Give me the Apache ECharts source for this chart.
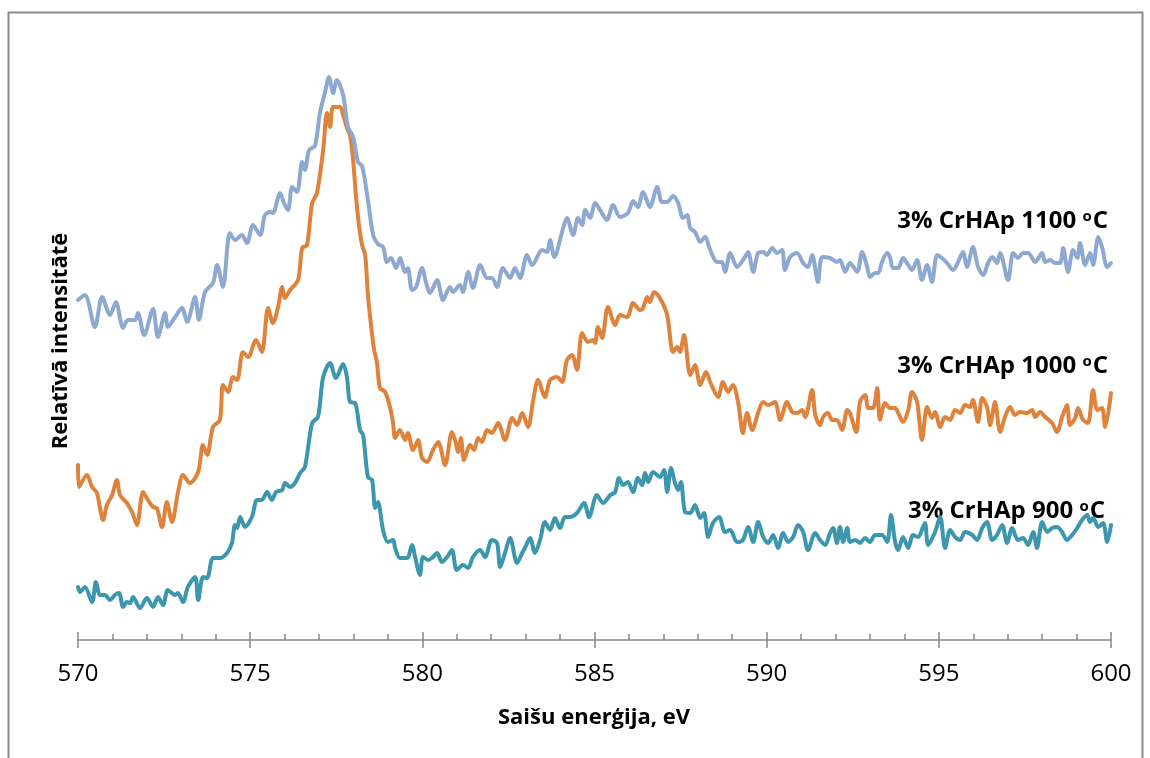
<!DOCTYPE html>
<html><head><meta charset="utf-8">
<script src="https://cdn.jsdelivr.net/npm/echarts@6/dist/echarts.min.js"></script>
<style>html,body{margin:0;padding:0;background:#fff}#c{width:1150px;height:758px}</style>
</head><body><div id="c"></div>
<script>
// Binding energy (eV) and relative intensity (arbitrary units)
const xTicks = [570, 575, 580, 585, 590, 595, 600];
const seriesNames = ['3% CrHAp 1100 oC', '3% CrHAp 1000 oC', '3% CrHAp 900 oC'];

const e1100 = [570.00,570.20,570.49,570.70,570.93,571.10,571.31,571.45,571.66,571.74,
571.92,572.18,572.32,572.53,572.61,572.82,573.02,573.17,573.40,573.51,
573.69,573.92,574.04,574.21,574.41,574.56,574.76,574.91,575.08,575.29,
575.43,575.58,575.66,575.87,575.98,576.10,576.22,576.36,576.51,576.59,
576.71,576.88,577.03,577.17,577.29,577.41,577.52,577.70,577.84,577.99,
578.13,578.25,578.42,578.57,578.71,578.86,578.97,579.09,579.24,579.35,
579.50,579.58,579.70,579.82,579.99,580.11,580.22,580.43,580.60,580.80,
580.89,581.09,581.18,581.33,581.47,581.68,581.88,582.02,582.17,582.34,
582.55,582.69,582.84,583.04,583.19,583.48,583.62,583.71,583.83,584.09,
584.20,584.38,584.52,584.64,584.73,584.87,585.02,585.16,585.36,585.54,
585.74,585.97,586.12,586.26,586.41,586.61,586.82,586.96,587.11,587.28,
587.43,587.57,587.69,587.78,587.92,588.07,588.21,588.36,588.56,588.70,
588.79,588.94,589.14,589.37,589.46,589.61,589.75,589.90,590.01,590.16,
590.30,590.45,590.53,590.68,590.88,591.06,591.20,591.32,591.49,591.61,
591.84,592.04,592.13,592.28,592.42,592.63,592.77,592.92,593.00,593.15,
593.24,593.35,593.50,593.58,593.67,593.82,593.96,594.11,594.22,594.37,
594.51,594.66,594.80,594.95,595.09,595.24,595.41,595.56,595.70,595.82,
595.99,596.14,596.29,596.43,596.55,596.69,596.78,597.01,597.16,597.30,
597.45,597.59,597.80,598.00,598.09,598.23,598.38,598.52,598.61,598.75,
598.90,599.02,599.10,599.25,599.39,599.48,599.63,599.74,599.89,600.00];
const i1100 = [340,345,313,343,325,338,312,320,320,327,
305,331,303,327,313,323,332,318,343,320,
348,357,375,353,407,400,405,397,415,405,
425,428,427,447,437,430,453,448,478,470,
490,494,528,547,563,547,560,545,513,503,
478,474,440,405,396,393,378,382,372,382,
368,372,350,353,372,357,347,360,340,353,
348,355,348,368,352,375,362,362,353,372,
362,372,362,385,375,390,388,400,383,412,
422,405,422,415,430,422,437,430,420,435,
423,427,439,433,448,433,453,438,438,444,
437,422,425,412,408,398,403,390,378,378,
368,387,373,383,388,368,387,388,385,392,
387,390,370,383,387,377,373,385,358,383,
382,378,380,368,377,368,388,373,363,367,
367,378,387,383,372,372,382,375,370,380,
360,375,358,385,382,377,370,378,388,373,
393,373,365,377,383,377,387,360,387,382,
387,387,378,387,378,380,377,377,392,368,
390,382,397,375,387,375,403,393,373,377];

const e1000 = [570.00,570.03,570.26,570.41,570.55,570.73,570.84,570.99,571.13,571.22,
571.42,571.57,571.71,571.89,572.03,572.18,572.29,572.44,572.58,572.73,
572.90,573.05,573.25,573.49,573.63,573.75,573.92,574.12,574.21,574.36,
574.50,574.62,574.79,574.94,575.17,575.34,575.52,575.66,575.81,575.93,
576.01,576.16,576.39,576.51,576.65,576.80,576.94,577.12,577.23,577.32,
577.41,577.61,577.70,577.81,577.90,577.99,578.07,578.16,578.25,578.34,
578.42,578.51,578.60,578.68,578.77,578.92,579.06,579.15,579.21,579.35,
579.50,579.58,579.73,579.88,579.99,580.14,580.31,580.46,580.66,580.86,
580.95,581.04,581.12,581.21,581.39,581.50,581.62,581.73,581.88,582.02,
582.20,582.40,582.61,582.75,582.90,583.07,583.22,583.36,583.56,583.71,
583.91,584.06,584.20,584.35,584.49,584.64,584.81,584.96,585.02,585.10,
585.22,585.39,585.60,585.74,585.95,586.12,586.32,586.41,586.53,586.61,
586.73,586.90,587.11,587.28,587.40,587.48,587.60,587.78,587.92,588.07,
588.24,588.36,588.59,588.73,588.88,589.02,589.17,589.31,589.43,589.58,
589.75,589.90,590.04,590.24,590.39,590.59,590.74,590.88,591.03,591.12,
591.32,591.41,591.55,591.64,591.78,591.90,592.04,592.19,592.34,592.42,
592.60,592.71,592.86,592.95,593.09,593.21,593.29,593.44,593.58,593.73,
593.82,593.96,594.11,594.22,594.37,594.51,594.66,594.80,594.89,595.04,
595.18,595.33,595.47,595.62,595.76,595.91,595.99,596.14,596.26,596.40,
596.49,596.63,596.78,596.92,597.07,597.21,597.36,597.56,597.71,597.80,
597.94,598.09,598.29,598.43,598.58,598.72,598.81,598.96,599.04,599.19,
599.33,599.48,599.60,599.74,599.83,600.00];
const i1000 = [175,153,165,153,147,120,135,145,160,145,
137,128,115,148,140,133,132,113,138,118,
147,165,157,168,195,185,213,220,255,248,
263,260,288,283,300,288,332,317,333,353,
342,350,360,392,395,437,447,490,527,513,
533,533,525,512,505,480,445,415,395,385,
345,315,290,278,252,248,233,217,202,210,
200,207,190,200,182,178,190,198,175,208,
200,188,202,180,195,190,202,198,210,207,
217,200,222,215,227,213,240,260,243,260,
263,258,280,285,270,307,298,300,297,313,
302,333,315,325,323,337,330,332,343,338,
348,342,325,288,293,288,305,265,275,255,
268,258,243,258,248,255,238,207,227,210,
227,238,235,238,220,238,228,227,230,223,
250,225,215,223,227,220,220,210,230,227,
208,238,245,232,232,252,220,237,232,232,
227,218,230,248,238,200,233,222,228,213,
223,220,230,227,235,233,240,218,242,233,
215,238,208,223,233,225,228,227,230,223,
228,223,217,208,223,235,215,222,232,220,
217,250,230,232,213,247];

const e900 = [570.00,570.06,570.20,570.41,570.52,570.64,570.78,570.93,571.07,571.19,
571.31,571.42,571.51,571.60,571.80,572.00,572.18,572.32,572.47,572.61,
572.82,572.90,573.05,573.19,573.40,573.49,573.63,573.75,573.92,574.12,
574.33,574.47,574.56,574.62,574.71,574.85,575.05,575.20,575.34,575.49,
575.63,575.75,575.93,576.01,576.16,576.30,576.45,576.59,576.80,576.97,
577.12,577.32,577.49,577.70,577.81,577.90,578.05,578.19,578.28,578.42,
578.54,578.63,578.71,578.86,579.00,579.15,579.21,579.35,579.56,579.70,
579.79,579.93,580.02,580.17,580.28,580.43,580.57,580.72,580.86,581.00,
581.18,581.33,581.47,581.68,581.82,582.02,582.17,582.26,582.40,582.55,
582.75,582.90,582.98,583.13,583.27,583.42,583.56,583.71,583.85,584.00,
584.14,584.29,584.49,584.70,584.84,585.07,585.25,585.46,585.60,585.71,
585.83,585.97,586.12,586.26,586.38,586.47,586.56,586.70,586.90,587.02,
587.11,587.22,587.34,587.43,587.51,587.63,587.78,587.92,588.07,588.18,
588.30,588.44,588.62,588.79,588.94,589.14,589.31,589.46,589.61,589.75,
589.90,590.04,590.19,590.33,590.48,590.62,590.77,590.91,591.06,591.20,
591.41,591.55,591.70,591.84,591.93,592.04,592.13,592.22,592.34,592.42,
592.57,592.71,592.86,593.00,593.15,593.35,593.50,593.61,593.73,593.82,
593.96,594.11,594.25,594.40,594.54,594.60,594.69,594.89,595.04,595.18,
595.33,595.47,595.62,595.76,595.97,596.11,596.26,596.40,596.55,596.69,
596.84,596.98,597.13,597.30,597.45,597.59,597.74,597.85,598.00,598.15,
598.29,598.43,598.58,598.72,598.87,599.02,599.16,599.31,599.39,599.48,
599.63,599.77,599.89,600.00];
const i900 = [53,48,53,38,58,45,45,40,45,47,
33,38,37,43,32,42,33,43,35,50,
45,47,38,53,63,40,63,62,82,82,
87,97,115,112,123,113,123,140,140,148,
140,148,150,157,153,157,167,173,217,223,
263,277,262,276,263,238,237,210,205,163,
160,132,138,110,98,100,92,82,82,95,
83,65,83,80,82,87,78,83,90,70,
75,72,83,90,83,100,97,73,87,102,
77,87,92,102,87,100,118,110,122,112,
123,123,127,137,123,145,137,145,148,162,
155,158,148,162,155,167,158,168,163,170,
148,172,157,150,158,128,127,135,122,127,
103,117,123,108,110,98,100,113,98,118,
103,97,105,92,107,98,103,115,108,90,
107,100,95,107,112,97,113,98,112,98,
100,97,102,98,105,105,98,125,98,90,
103,92,105,103,113,117,95,108,123,92,
110,103,100,108,105,100,112,118,100,105,
115,97,112,100,102,95,108,92,118,108,
112,113,108,100,105,112,120,125,118,122,
113,117,98,115];

const colors = ['#8EA9D1', '#DF823B', '#3B96AE'];
const FONT = '"Open Sans", "Noto Sans", sans-serif';
const pair = (e, v) => e.map((x, k) => [x, v[k]]);

const chart = echarts.init(document.getElementById('c'), null, {renderer: 'canvas'});
const axisGray = '#868686';

function labelText(name) {
  const m = name.match(/^(.*) o(C)$/);
  return '{a|' + m[1] + ' }{s|o}{a|' + m[2] + '}';
}
const richStyle = {
  a: {fontFamily: FONT, fontSize: 24, fontWeight: 'bold', fill: '#000'},
  s: {fontFamily: FONT, fontSize: 15, fontWeight: 'bold', fill: '#000', verticalAlign: 'top', padding: [0, 1, 0, 0]}
};

chart.setOption({
  animation: false,
  backgroundColor: '#fff',
  grid: {left: 78, right: 39, top: 40, bottom: 118, containLabel: false},
  xAxis: [{
    type: 'value', min: xTicks[0], max: xTicks[xTicks.length - 1], interval: 5, position: 'bottom',
    axisLine: {lineStyle: {color: axisGray, width: 1.5}},
    axisTick: {show: true, length: 8, lineStyle: {color: axisGray, width: 1.5}},
    axisLabel: {margin: 22, fontFamily: FONT, fontSize: 24, color: '#000'},
    splitLine: {show: false}
  }, {
    type: 'value', min: xTicks[0], max: xTicks[xTicks.length - 1], interval: 5, position: 'bottom',
    axisLine: {show: false},
    axisTick: {show: true, inside: true, length: 8, lineStyle: {color: axisGray, width: 1.5}},
    minorTick: {show: true, splitNumber: 5, length: 6, lineStyle: {color: axisGray, width: 1.5}},
    axisLabel: {show: false},
    splitLine: {show: false}
  }],
  yAxis: {type: 'value', min: 0, max: 600, show: false},
  series: [
    {name: seriesNames[2], type: 'line', data: pair(e900, i900), color: colors[2]},
    {name: seriesNames[1], type: 'line', data: pair(e1000, i1000), color: colors[1]},
    {name: seriesNames[0], type: 'line', data: pair(e1100, i1100), color: colors[0]}
  ].map(s => Object.assign(s, {showSymbol: false, symbol: 'none', smooth: 0.3,
      lineStyle: {width: 4, color: s.color, join: 'round', cap: 'round'}, z: 3})),
  graphic: [
    {type: 'rect', z: 0, silent: true, shape: {x: 8.5, y: 12.5, width: 1134, height: 760},
      style: {fill: 'none', stroke: '#8c8c8c', lineWidth: 2}},
    {type: 'text', x: 1108, y: 221, style: {text: labelText(seriesNames[0]), rich: richStyle, align: 'right', verticalAlign: 'middle'}},
    {type: 'text', x: 1108, y: 366, style: {text: labelText(seriesNames[1]), rich: richStyle, align: 'right', verticalAlign: 'middle'}},
    {type: 'text', x: 1105, y: 511, style: {text: labelText(seriesNames[2]), rich: richStyle, align: 'right', verticalAlign: 'middle'}},
    {type: 'text', x: 594, y: 718, style: {text: 'Saišu enerģija, eV', font: 'bold 22px ' + FONT, fill: '#000', align: 'center', verticalAlign: 'middle'}},
    {type: 'text', x: 61, y: 341, rotation: Math.PI / 2, style: {text: 'Relatīvā intensitātē', font: 'bold 22px ' + FONT, fill: '#000', align: 'center', verticalAlign: 'middle'}}
  ]
});
</script></body></html>
